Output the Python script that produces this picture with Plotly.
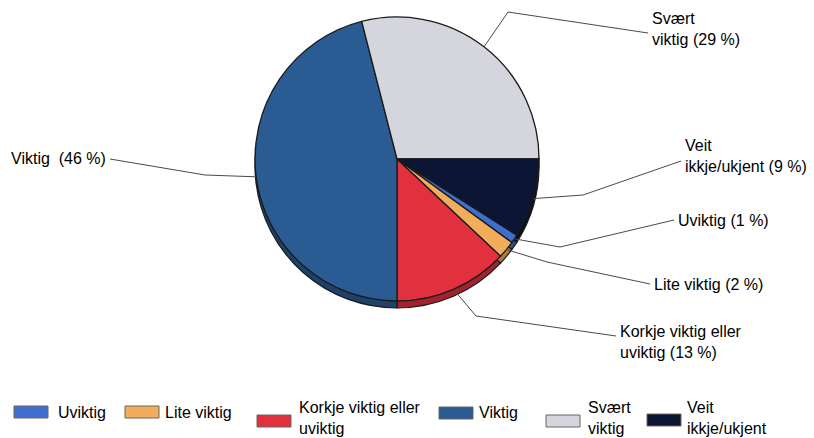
import math
import plotly.graph_objects as go

# ---- data ----
categories = ["Uviktig", "Lite viktig", "Korkje viktig eller uviktig", "Viktig", "Svært viktig", "Veit ikkje/ukjent"]
values = [1, 2, 13, 46, 29, 9]
legend_text = ["Uviktig", "Lite viktig", "Korkje viktig eller<br>uviktig", "Viktig", "Svært<br>viktig", "Veit<br>ikkje/ukjent"]
label_text = ["Uviktig (1 %)", "Lite viktig (2 %)", "Korkje viktig eller<br>uviktig (13 %)", "Viktig  (46 %)",
              "Svært<br>viktig (29 %)", "Veit<br>ikkje/ukjent (9 %)"]

# ---- style / layout ----
colors = ["#3f6fce", "#f2ad5c", "#e2313e", "#2b5b93", "#d5d5dd", "#0c1634"]
W, H = 814, 438
CX, CY, R = 397, 159, 142
DEPTH = 7
FONT = "Liberation Sans, Arial, sans-serif"
FS = 16

total = sum(values)
# Viktig slice begins at 6 o'clock (clockwise ordering)
rotation = 180 - 360 * sum(values[:3]) / total


def px(x, y):
    return x / W, 1 - y / H


def darker(hexc, f=0.72):
    r, g, b = int(hexc[1:3], 16), int(hexc[3:5], 16), int(hexc[5:7], 16)
    return "#%02x%02x%02x" % (int(r * f), int(g * f), int(b * f))


def domain(cx, cy, r):
    return dict(x=[(cx - r) / W, (cx + r) / W], y=[1 - (cy + r) / H, 1 - (cy - r) / H])


fig = go.Figure()
# side "thickness" of the pie
fig.add_trace(go.Pie(labels=categories, values=values, sort=False, direction="clockwise",
                     rotation=rotation, textinfo="none", hoverinfo="skip", showlegend=False,
                     marker=dict(colors=[darker(c) for c in colors], line=dict(color="#1a1a1a", width=1.2)),
                     domain=domain(CX, CY + DEPTH, R)))
fig.add_trace(go.Pie(labels=categories, values=values, sort=False, direction="clockwise",
                     rotation=rotation, textinfo="none", showlegend=False,
                     marker=dict(colors=colors, line=dict(color="#1a1a1a", width=1.3)),
                     domain=domain(CX, CY, R)))

# leader-line layout: (elbow px, end px, text anchor px, xanchor)
label_pos = [
    ((560, 247), (674, 220), (676, 220), "left"),
    ((547, 262), (650, 284), (652, 284), "left"),
    ((476, 316), (616, 336), (618, 342), "left"),
    ((205, 175), (110, 159), (108, 158), "right"),
    ((508, 12), (648, 33), (650, 29), "left"),
    ((583, 195), (681, 161), (683, 156), "left"),
]

shapes = []
annotations = []
cum = 0
for i, v in enumerate(values):
    mid = rotation + 360 * (cum + v / 2) / total
    cum += v
    a = math.radians(mid)
    ex, ey = CX + R * math.sin(a), CY - R * math.cos(a)
    (bx, by), (tx, ty), (ax, ay), xa = label_pos[i]
    p0, p1, p2 = px(ex, ey), px(bx, by), px(tx, ty)
    shapes.append(dict(type="path", xref="paper", yref="paper",
                       path=f"M{p0[0]},{p0[1]} L{p1[0]},{p1[1]} L{p2[0]},{p2[1]}",
                       line=dict(color="#4a4a4a", width=1)))
    qx, qy = px(ax, ay)
    annotations.append(dict(x=qx, y=qy, xref="paper", yref="paper", text=label_text[i],
                            showarrow=False, xanchor=xa, yanchor="middle", align="left",
                            font=dict(family=FONT, size=FS, color="#000000")))

# custom legend: swatch x-start, swatch centre y, text x-start, text centre y
legend_pos = [(14, 412, 56, 412), (125, 412, 163, 412), (257, 421, 297, 418),
              (439, 413, 477, 412), (546, 421, 586, 418), (647, 420, 685, 418)]
for i, (sx, sy, tx, ty) in enumerate(legend_pos):
    a0, b0 = px(sx, sy - 6)
    a1, b1 = px(sx + 34, sy + 6)
    shapes.append(dict(type="rect", xref="paper", yref="paper", x0=a0, y0=b0, x1=a1, y1=b1,
                       fillcolor=colors[i], line=dict(color="#666666", width=1)))
    qx, qy = px(tx, ty)
    annotations.append(dict(x=qx, y=qy, xref="paper", yref="paper", text=legend_text[i],
                            showarrow=False, xanchor="left", yanchor="middle", align="left",
                            font=dict(family=FONT, size=FS, color="#000000")))

fig.update_layout(width=W, height=H, margin=dict(l=0, r=0, t=0, b=0),
                  paper_bgcolor="white", plot_bgcolor="white",
                  shapes=shapes, annotations=annotations, showlegend=False,
                  font=dict(family=FONT))
fig.write_html("out.html", config={"displayModeBar": False})

# remove the browser's default body margin so the figure fills the window exactly
with open("out.html", encoding="utf-8") as f:
    html = f.read()
html = html.replace("<body>", '<body style="margin:0;padding:0;overflow:hidden">', 1)
with open("out.html", "w", encoding="utf-8") as f:
    f.write(html)
